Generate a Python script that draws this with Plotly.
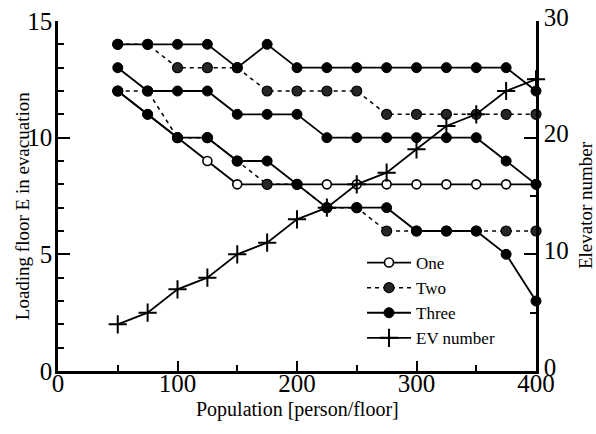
import plotly.graph_objects as go

# Population per floor (x) and loading-floor results for 1, 2 and 3 loading floors
population = [50, 75, 100, 125, 150, 175, 200, 225, 250, 275, 300, 325, 350, 375, 400]

one_floor = [12, 11, 10, 9, 8, 8, 8, 8, 8, 8, 8, 8, 8, 8, 8]

two_upper = [14, 14, 13, 13, 13, 12, 12, 12, 12, 11, 11, 11, 11, 11, 11]
two_lower = [12, 12, 10, 10, 9, 8, 8, 7, 7, 6, 6, 6, 6, 6, 6]

three_top = [14, 14, 14, 14, 13, 14, 13, 13, 13, 13, 13, 13, 13, 13, 12]
three_mid = [13, 12, 12, 12, 11, 11, 11, 10, 10, 10, 10, 10, 10, 9, 8]
three_bot = [12, 11, 10, 10, 9, 9, 8, 7, 7, 7, 6, 6, 6, 5, 3]

# Elevator count (right axis)
ev_number = [4, 5, 7, 8, 10, 11, 13, 14, 16, 17, 19, 21, 22, 24, 25]

x_ticks = [0, 100, 200, 300, 400]
y_ticks = [0, 5, 10, 15]
y2_ticks = [0, 10, 20, 30]

FONT = "Liberation Serif"
BLACK = "black"

fig = go.Figure()

# One loading floor: solid line, open circles
fig.add_trace(go.Scatter(
    x=population, y=one_floor, name="One", mode="lines+markers",
    line=dict(color=BLACK, width=1.8),
    marker=dict(symbol="circle", size=9, color="white", line=dict(color=BLACK, width=1.6)),
    legendgroup="one", cliponaxis=False,
))

# Two loading floors: dashed lines, filled circles
for i, vals in enumerate([two_upper, two_lower]):
    fig.add_trace(go.Scatter(
        x=population, y=vals, name="Two", mode="lines+markers",
        line=dict(color=BLACK, width=1.5, dash="4px,4px"),
        marker=dict(symbol="circle", size=10, color="#262626", line=dict(color=BLACK, width=1.2)),
        legendgroup="two", showlegend=(i == 0), cliponaxis=False,
    ))

# Three loading floors: solid lines, filled circles
for i, vals in enumerate([three_top, three_mid, three_bot]):
    fig.add_trace(go.Scatter(
        x=population, y=vals, name="Three", mode="lines+markers",
        line=dict(color=BLACK, width=1.8),
        marker=dict(symbol="circle", size=10, color=BLACK, line=dict(color=BLACK, width=1)),
        legendgroup="three", showlegend=(i == 0), cliponaxis=False,
    ))

# Elevator number on the secondary axis
fig.add_trace(go.Scatter(
    x=population, y=ev_number, name="EV number", mode="lines+markers",
    line=dict(color=BLACK, width=1.8),
    marker=dict(symbol="cross-thin", size=13, color=BLACK, line=dict(color=BLACK, width=2)),
    yaxis="y2", cliponaxis=False,
))

axis_common = dict(
    showgrid=False, zeroline=False, showline=True, linecolor=BLACK, linewidth=2.5,
    ticks="inside", tickcolor=BLACK, tickwidth=2, automargin=False,
    tickfont=dict(family=FONT, size=25, color=BLACK),
)

fig.update_layout(
    width=596, height=434,
    margin=dict(l=58, r=60, t=21, b=63),
    paper_bgcolor="white", plot_bgcolor="white",
    font=dict(family=FONT, color=BLACK),
    xaxis=dict(
        range=[0, 400], tickvals=x_ticks, ticklen=10,
        minor=dict(dtick=50, ticks="inside", ticklen=6, tickcolor=BLACK, tickwidth=2),
        ticklabelstandoff=-12,
        **axis_common,
    ),
    yaxis=dict(
        range=[0, 15], tickvals=y_ticks, ticklen=12,
        minor=dict(dtick=1, ticks="inside", ticklen=6, tickcolor=BLACK, tickwidth=2),
        ticklabelstandoff=-2,
        **axis_common,
    ),
    yaxis2=dict(
        range=[0, 30], tickvals=y2_ticks, ticklen=12, overlaying="y", side="right",
        minor=dict(dtick=5, ticks="inside", ticklen=6, tickcolor=BLACK, tickwidth=2),
        ticklabelstandoff=0, ticklabelshift=-4,
        **axis_common,
    ),
    showlegend=True,
    legend=dict(
        x=0.636, y=0.36, xanchor="left", yanchor="top",
        bgcolor="rgba(0,0,0,0)", borderwidth=0,
        font=dict(family=FONT, size=17, color=BLACK),
        itemwidth=44, tracegroupgap=0,
    ),
    annotations=[
        dict(text="Loading floor E in evacuation", xref="paper", yref="paper",
             x=-0.0752, y=0.471, xanchor="center", yanchor="middle", textangle=-90,
             showarrow=False, font=dict(family=FONT, size=19, color=BLACK)),
        dict(text="Elevator number", xref="paper", yref="paper",
             x=1.1025, y=0.474, xanchor="center", yanchor="middle", textangle=-90,
             showarrow=False, font=dict(family=FONT, size=19, color=BLACK)),
        dict(text="Population [person/floor]", xref="paper", yref="paper",
             x=0.502, y=-0.11, xanchor="center", yanchor="middle",
             showarrow=False, font=dict(family=FONT, size=20, color=BLACK)),
    ],
)

fig.write_html("out.html")
